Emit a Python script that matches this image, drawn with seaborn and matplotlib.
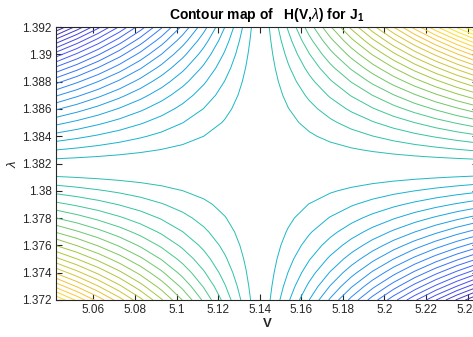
import numpy as np
import matplotlib
matplotlib.use("Agg")
import matplotlib.pyplot as plt
from matplotlib.colors import LinearSegmentedColormap
from matplotlib.ticker import FuncFormatter
import seaborn as sns

# ---- data ----
V_limits = [5.042, 5.245]          # V axis range
lam_limits = [1.372, 1.392]        # lambda axis range
saddle_V = 5.1403                  # saddle point, V
saddle_lam = 1.3817                # saddle point, lambda
V_scale = 0.1                      # half-width of the map in V
lam_scale = 0.01                   # half-height of the map in lambda
lam_bend = 0.43                    # steepening of H along lambda away from the saddle
level_step = 0.064                 # spacing between contour levels (scaled H)
grid_points = [21, 21]             # sample points of the computed map (V, lambda)
x_ticks = [5.06, 5.08, 5.10, 5.12, 5.14, 5.16, 5.18, 5.20, 5.22, 5.24]
y_ticks = [1.372, 1.374, 1.376, 1.378, 1.380, 1.382, 1.384, 1.386, 1.388, 1.390, 1.392]

# grid for H(V, lambda): saddle-shaped map
V = np.linspace(V_limits[0], V_limits[1], grid_points[0])
lam = np.linspace(lam_limits[0], lam_limits[1], grid_points[1])
VV, LL = np.meshgrid(V, lam)
X = (VV - saddle_V) / V_scale
Y = (LL - saddle_lam) / lam_scale
H = X * Y * (1 + lam_bend * Y**2)

# parula colormap (MATLAB parula(8) anchors)
parula_cols = [
    (0.2422, 0.1504, 0.6603),
    (0.2810, 0.3228, 0.9579),
    (0.1786, 0.5289, 0.9682),
    (0.0689, 0.6948, 0.8394),
    (0.2161, 0.7843, 0.5923),
    (0.6720, 0.7793, 0.2227),
    (0.9970, 0.7659, 0.2199),
    (0.9769, 0.9839, 0.0805),
]
parula = LinearSegmentedColormap.from_list("parula", parula_cols)

sns.set_style("ticks")
plt.rcParams['font.family'] = ['Liberation Sans', 'DejaVu Sans']
plt.rcParams['mathtext.fontset'] = 'custom'
plt.rcParams['mathtext.rm'] = 'Liberation Sans'
plt.rcParams['mathtext.it'] = 'Liberation Sans:italic'
plt.rcParams['mathtext.bf'] = 'Liberation Sans:bold'

fig = plt.figure(figsize=(4.73, 3.37), dpi=100)
ax = fig.add_axes([56/473, (337-300)/337, (478-56)/473, (300-27)/337])

kmax = int(np.ceil(max(abs(H.min()), abs(H.max())) / level_step))
levels = np.array([k * level_step for k in range(-kmax, kmax + 1) if k != 0])
levels = levels[(levels > H.min()) & (levels < H.max())]
ax.contour(VV, LL, H, levels=levels, cmap=parula, linewidths=0.7,
           vmin=levels.min(), vmax=levels.max())

ax.set_xlim(V_limits)
ax.set_ylim(lam_limits)
ax.set_xticks(x_ticks)
ax.set_yticks(y_ticks)
fmt = FuncFormatter(lambda v, p: f"{v:g}")
ax.xaxis.set_major_formatter(fmt)
ax.yaxis.set_major_formatter(fmt)

for s in ax.spines.values():
    s.set_color('#262626')
    s.set_linewidth(0.8)
ax.tick_params(direction='in', length=4, width=0.8, color='#262626',
               labelsize=8.5, labelcolor='#262626', top=True, right=True, pad=3)

ax.set_title(r"Contour map of   H(V,$\lambda$) for J$_\mathbf{1}$",
             fontsize=10, fontweight='bold', pad=6, color='black')
ax.set_xlabel("V", fontsize=9.5, fontweight='bold', labelpad=1, color='#262626')
ax.set_ylabel(r"$\lambda$", fontsize=9.5, labelpad=2, color='#262626')

fig.savefig("out.png", dpi=100)
